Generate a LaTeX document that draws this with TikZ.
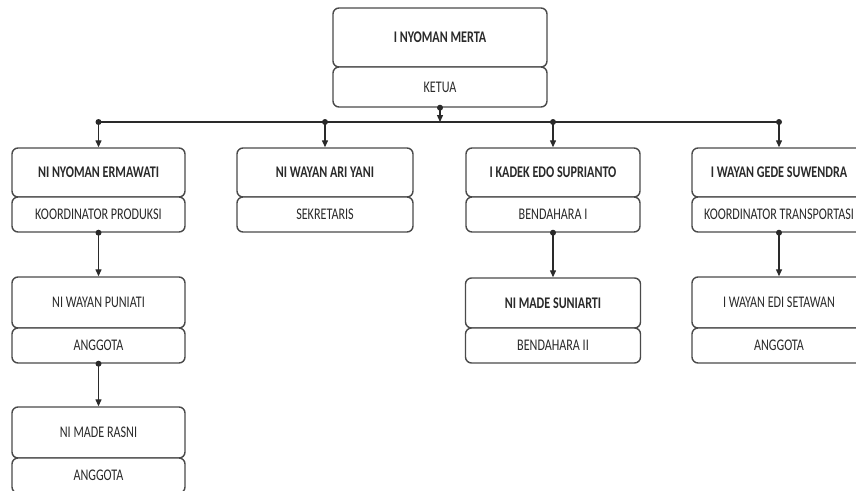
\documentclass[tikz,border=0pt]{standalone}
\usepackage{fontspec}
\setmainfont{Carlito}
\usetikzlibrary{arrows.meta}
\definecolor{ink}{HTML}{2A2A2A}
\definecolor{edge}{HTML}{4A4A4A}
\newcommand{\nm}[1]{\scalebox{0.97}[1.3]{\bfseries #1}}
\newcommand{\rl}[1]{\scalebox{0.97}[1.3]{#1}}
\begin{document}
\begin{tikzpicture}[x=1pt,y=-1pt,
  box/.style={draw=edge, line width=1.4pt, rounded corners=6pt, fill=white, inner sep=0pt,
    text=ink, font=\fontsize{12.5}{13}\selectfont},
  conn/.style={draw=ink, line width=1.3pt, -{Triangle[length=7pt,width=6pt]}},
  dot/.style={fill=ink},
  bus/.style={draw=ink, line width=1.6pt}]
\useasboundingbox (0,0) rectangle (856,490);
\clip (0,0) rectangle (856,490);
% top
\node[box, minimum width=214pt, minimum height=59pt] (n0) at (440,37.5) {\nm{I NYOMAN MERTA}};
\node[box, minimum width=214pt, minimum height=40pt] (r0) at (440,87) {\rl{KETUA}};
% level 2
\node[box, minimum width=173pt, minimum height=49pt] (n1) at (98.5,172.5) {\nm{NI NYOMAN ERMAWATI}};
\node[box, minimum width=173pt, minimum height=35pt] (r1) at (98.5,214.5) {\rl{KOORDINATOR PRODUKSI}};
\node[box, minimum width=176pt, minimum height=49pt] (n2) at (325,172.5) {\nm{NI WAYAN ARI YANI}};
\node[box, minimum width=176pt, minimum height=35pt] (r2) at (325,214.5) {\rl{SEKRETARIS}};
\node[box, minimum width=174pt, minimum height=49pt] (n3) at (553,172.5) {\nm{I KADEK EDO SUPRIANTO}};
\node[box, minimum width=174pt, minimum height=35pt] (r3) at (553,214.5) {\rl{BENDAHARA I}};
\node[box, minimum width=174pt, minimum height=49pt] (n4) at (779,172.5) {\nm{I WAYAN GEDE SUWENDRA}};
\node[box, minimum width=174pt, minimum height=35pt] (r4) at (779,214.5) {\rl{KOORDINATOR TRANSPORTASI}};
% level 3
\node[box, minimum width=173pt, minimum height=51pt] (n5) at (98.5,302.5) {\rl{NI WAYAN PUNIATI}};
\node[box, minimum width=173pt, minimum height=35pt] (r5) at (98.5,345.5) {\rl{ANGGOTA}};
\node[box, minimum width=175pt, minimum height=50pt] (n6) at (553,303) {\nm{NI MADE SUNIARTI}};
\node[box, minimum width=175pt, minimum height=35pt] (r6) at (553,345.5) {\rl{BENDAHARA II}};
\node[box, minimum width=174pt, minimum height=51pt] (n7) at (779,302.5) {\rl{I WAYAN EDI SETAWAN}};
\node[box, minimum width=174pt, minimum height=35pt] (r7) at (779,345.5) {\rl{ANGGOTA}};
% level 4
\node[box, minimum width=173pt, minimum height=51pt] (n8) at (98.5,432.5) {\rl{NI MADE RASNI}};
\node[box, minimum width=173pt, minimum height=35pt] (r8) at (98.5,475.5) {\rl{ANGGOTA}};
% bus
\coordinate (bt) at (440,122);
\coordinate (b1) at (98.5,122);
\coordinate (b2) at (325,122);
\coordinate (b3) at (553,122);
\coordinate (b4) at (779,122);
\draw[bus] (b1) -- (b4);
\draw[conn] (r0.south) -- (bt);
\draw[conn] (b1) -- (n1.north);
\draw[conn] (b2) -- (n2.north);
\draw[conn] (b3) -- (n3.north);
\draw[conn] (b4) -- (n4.north);
\draw[conn] (r1.south) -- (n5.north);
\draw[conn] (r3.south) -- (n6.north);
\draw[conn] (r4.south) -- (n7.north);
\draw[conn] (r5.south) -- (n8.north);
\foreach \p in {r0.south,b1,b2,b3,b4,r1.south,r3.south,r4.south,r5.south}
  \fill[dot] (\p) circle (3pt);
\end{tikzpicture}
\end{document}
